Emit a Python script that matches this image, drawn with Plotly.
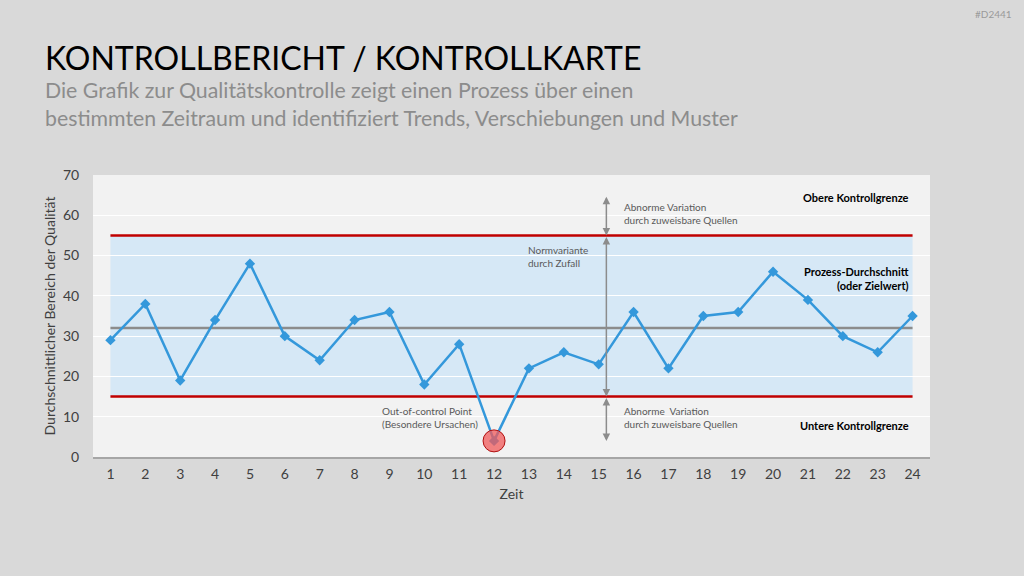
import plotly.graph_objects as go

zeit = list(range(1, 25))
qualitaet = [29, 38, 19, 34, 48, 30, 24, 34, 36, 18, 28, 4, 22, 26, 23, 36, 22, 35, 36, 46, 39, 30, 26, 35]
obere_grenze = 55
untere_grenze = 15
durchschnitt = 32
ausreisser_zeit = 12
ausreisser_wert = 4

FONT = "Lato, Open Sans, sans-serif"
BLUE = "rgb(52,152,219)"
RED = "#c00000"
GREY = "#8c8c8c"

fig = go.Figure()

fig.add_trace(go.Scatter(x=[zeit[0], zeit[-1]], y=[durchschnitt]*2, mode="lines",
                         line=dict(color=GREY, width=2.5), hoverinfo="skip"))
fig.add_trace(go.Scatter(x=[zeit[0], zeit[-1]], y=[obere_grenze]*2, mode="lines",
                         line=dict(color=RED, width=2.5), hoverinfo="skip"))
fig.add_trace(go.Scatter(x=[zeit[0], zeit[-1]], y=[untere_grenze]*2, mode="lines",
                         line=dict(color=RED, width=2.5), hoverinfo="skip"))
fig.add_trace(go.Scatter(x=zeit, y=qualitaet, mode="lines+markers",
                         line=dict(color=BLUE, width=2.5),
                         marker=dict(symbol="diamond", size=8, color=BLUE)))
fig.add_trace(go.Scatter(x=[ausreisser_zeit], y=[ausreisser_wert], mode="markers",
                         marker=dict(size=22, color="rgba(240,90,90,0.75)",
                                     line=dict(color="#b01010", width=1))))

fig.add_shape(type="rect", x0=zeit[0], x1=zeit[-1], y0=untere_grenze, y1=obere_grenze,
              fillcolor="#d6e8f6", line=dict(width=0), layer="below")

# arrows
ax_x = 15.22
for y0, y1 in [(65, obere_grenze), (obere_grenze, untere_grenze), (untere_grenze, 4)]:
    fig.add_annotation(x=ax_x, y=y1, ax=ax_x, ay=y0, xref="x", yref="y", axref="x", ayref="y",
                       showarrow=True, arrowhead=2, arrowsize=1, arrowwidth=1.5,
                       arrowcolor="#8c8c8c", arrowside="end+start", text="")

small = dict(family=FONT, size=10, color="#595959")
bold = dict(family=FONT, size=11, color="#000000")
fig.add_annotation(x=15.67, y=60.5, text="Abnorme Variation<br>durch zuweisbare Quellen", showarrow=False,
                   xanchor="left", align="left", font=small)
fig.add_annotation(x=12.91, y=49.7, text="Normvariante<br>durch Zufall", showarrow=False,
                   xanchor="left", align="left", font=small)
fig.add_annotation(x=8.72, y=9.8, text="Out-of-control Point<br>(Besondere Ursachen)", showarrow=False,
                   xanchor="left", align="left", font=small)
fig.add_annotation(x=15.67, y=9.8, text="Abnorme  Variation<br>durch zuweisbare Quellen", showarrow=False,
                   xanchor="left", align="left", font=small)
fig.add_annotation(x=23.95, y=64.3, text="<b>Obere Kontrollgrenze</b>", showarrow=False,
                   xanchor="right", align="right", font=bold)
fig.add_annotation(x=23.95, y=44.2, text="<b>Prozess-Durchschnitt<br>(oder Zielwert)</b>", showarrow=False,
                   xanchor="right", align="right", font=bold)
fig.add_annotation(x=23.95, y=7.9, text="<b>Untere Kontrollgrenze</b>", showarrow=False,
                   xanchor="right", align="right", font=bold)

# titles (pixel positions converted to paper coords below)
fig.add_annotation(x=43, y=576-58, xref="paper", yref="paper", text="KONTROLLBERICHT / KONTROLLKARTE",
                   showarrow=False, xanchor="left", yanchor="middle",
                   font=dict(family=FONT, size=32, color="#000000"))
fig.add_annotation(x=43, y=576-104, xref="paper", yref="paper",
                   text="Die Grafik zur Qualitätskontrolle zeigt einen Prozess über einen<br>bestimmten Zeitraum und identifiziert Trends, Verschiebungen und Muster",
                   showarrow=False, xanchor="left", yanchor="middle", align="left",
                   font=dict(family=FONT, size=21.3, color="#8c8c8c"))
fig.add_annotation(x=1014, y=576-14, text="#D2441", showarrow=False, xanchor="right", yanchor="middle",
                   xref="paper", yref="paper", font=dict(family=FONT, size=10, color="#9a9a9a"))

fig.update_layout(
    width=1024, height=576,
    margin=dict(l=93, r=94, t=175, b=119),
    paper_bgcolor="#d9d9d9", plot_bgcolor="#f2f2f2",
    showlegend=False,
    font=dict(family=FONT, color="#404040"),
    xaxis=dict(range=[0.5, 24.5], tickvals=zeit, ticktext=[str(z) for z in zeit],
               showgrid=False, zeroline=False, showline=True, linecolor="#a6a6a6", linewidth=2,
               tickfont=dict(size=14, color="#404040"), ticks="outside", ticklen=3, tickcolor="rgba(0,0,0,0)",
               title=dict(text="Zeit", font=dict(size=14, color="#404040"), standoff=8), fixedrange=True),
    yaxis=dict(range=[0, 70], tickvals=[0, 10, 20, 30, 40, 50, 60, 70], showgrid=True, gridcolor="#ffffff",
               gridwidth=1, zeroline=False, showline=False,
               tickfont=dict(size=14, color="#404040"), ticks="outside", ticklen=10, tickcolor="rgba(0,0,0,0)",
               title=dict(text="Durchschnittlicher Bereich der Qualität", font=dict(size=14, color="#404040"),
                          standoff=4), fixedrange=True),
)

for a in fig.layout.annotations:
    if a.xref == "paper" and a.x is not None and a.x > 1:
        a.x = (a.x - 93) / (1024 - 93 - 94)
        a.y = (a.y - 119) / (576 - 175 - 119)

fig.write_html("out.html")
